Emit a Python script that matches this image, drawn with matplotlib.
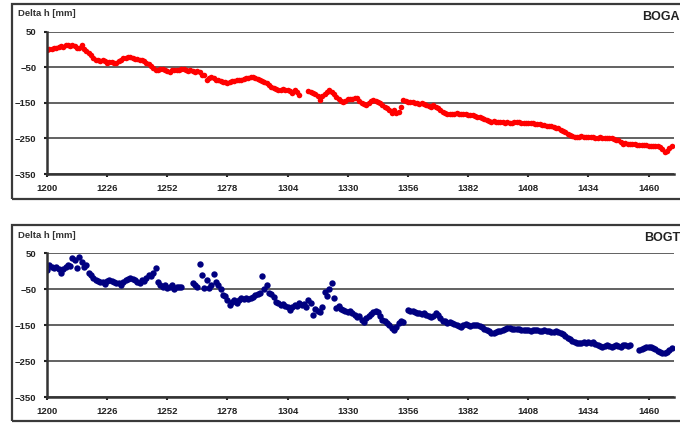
import matplotlib
matplotlib.use("Agg")
import matplotlib.pyplot as plt
import numpy as np
from matplotlib.patches import Rectangle

nan = np.nan

# day offsets from 1200
boga_start = 1200
boga = [
    0, 2, 1, 5, 4, 8, 10, 9, 12, 13,
    11, 12, 10, 6, 5, 14, 2, -4, -10, -14,
    -22, -30, -28, -32, -30, -33, -36, -35, -34, -37,
    -36, -32, -28, -24, -22, -20, -21, -24, -25, -27,
    -28, -30, -32, -36, -40, -45, -52, -57, -56, -54,
    -55, -58, -60, -62, -58, -57, -56, -58, -55, -55,
    -57, -60, -58, -60, -62, -60, -62, -70, -72, -85,
    -80, -78, -80, -84, -86, -88, -90, -92, -93, -90,
    -88, -89, -86, -85, -84, -82, -80, -79, -77, -76,
    -80, -83, -85, -88, -92, -95, -100, -104, -108, -110,
    -113, -112, -110, -114, -112, -116, -122, -112, -118, -127,
    nan, nan, nan, -115, -118, -122, -125, -130, -141, -130,
    -125, -118, -113, -118, -125, -132, -140, -143, -147, -144,
    -140, -140, -138, -135, -136, -145, -150, -152, -156, -150,
    -145, -141, -144, -147, -150, -155, -160, -165, -170, -178,
    -170, -178, -175, -160, -141, -145, -148, -146, -148, -150,
    -150, -152, -150, -152, -155, -158, -160, -156, -160, -165,
    -170, -174, -178, -180, -182, -182, -180, -178, -180, -181,
    -182, -182, -183, -185, -184, -187, -189, -190, -192, -195,
    -198, -200, -203, -202, -203, -204, -203, -204, -205, -204,
    -205, -206, -204, -203, -204, -205, -205, -206, -205, -206,
    -207, -208, -208, -210, -211, -212, -214, -215, -216, -218,
    -220, -221, -225, -228, -232, -236, -240, -243, -245, -246,
    -245, -244, -245, -246, -247, -246, -247, -248, -248, -247,
    -248, -249, -248, -250, -250, -252, -253, -255, -260, -265,
    -264, -265, -266, -265, -266, -267, -268, -268, -267, -269,
    -270, -270, -271, -272, -272, -274, -280, -288, -285, -278,
    -272,
]

bogt = [
    3, 17, 10, 8, 12, 5, -6, 5, 10, 17,
    15, 36, 30, 8, 39, 25, 10, 17, -5, -11,
    -20, -25, -28, -31, -30, -35, -28, -25, -28, -30,
    -32, -33, -38, -30, -25, -22, -19, -22, -25, -30,
    -33, -25, -28, -20, -11, -15, -5, 8, -30, -39,
    -45, -40, -48, -44, -38, -50, -45, -44, -45, nan,
    nan, nan, nan, -33, -40, -44, 19, -11, -47, -25,
    -47, -40, -8, -30, -39, -50, -67, -70, -80, -94,
    -85, -81, -89, -80, -75, -78, -75, -77, -75, -72,
    -68, -65, -61, -14, -50, -39, -60, -65, -72, -85,
    -90, -94, -92, -98, -100, -108, -100, -95, -98, -89,
    -95, -92, -100, -81, -90, -122, -105, -110, -114, -100,
    -58, -70, -50, -33, -75, -103, -98, -105, -108, -112,
    -114, -110, -118, -122, -128, -125, -135, -142, -130, -125,
    -120, -115, -112, -114, -125, -136, -140, -145, -150, -158,
    -164, -155, -145, -140, -142, nan, -108, -110, -112, -115,
    -116, -118, -120, -117, -122, -125, -128, -125, -118, -122,
    -130, -138, -140, -144, -142, -145, -148, -150, -152, -155,
    -150, -148, -150, -152, -150, -150, -150, -152, -155, -160,
    -165, -168, -172, -172, -170, -168, -166, -164, -160, -158,
    -158, -160, -162, -160, -162, -164, -163, -164, -164, -166,
    -165, -163, -165, -168, -166, -165, -166, -168, -170, -169,
    -168, -170, -172, -176, -180, -185, -190, -194, -198, -200,
    -200, -200, -198, -199, -197, -199, -198, -202, -205, -208,
    -210, -208, -206, -209, -211, -208, -205, -207, -210, -206,
    -205, -208, -206, nan, nan, nan, -220, -218, -214, -212,
    -211, -212, -214, -218, -222, -225, -227, -228, -226, -220,
    -214,
]

xticks = [1200, 1226, 1252, 1278, 1304, 1330, 1356, 1382, 1408, 1434, 1460]
yticks = [50, -50, -150, -250, -350]

plt.rcParams['font.family'] = ['Liberation Sans', 'DejaVu Sans']

fig = plt.figure(figsize=(6.8, 4.23), dpi=100)
W, H = 680, 423


def frame(y0, y1):
    r = Rectangle((12 / W, 1 - y1 / H), 1.2, (y1 - y0) / H, transform=fig.transFigure,
                  fill=False, edgecolor='#3a3a3a', lw=1.6)
    fig.add_artist(r)


def panel(top, bottom, vals, color, ms, name, name_y, lab_y):
    ax = fig.add_axes([47 / W, 1 - bottom / H, (674 - 47) / W, (bottom - top) / H])
    x = boga_start + np.arange(len(vals))
    ax.plot(x, vals, 'o', color=color, ms=ms, mec=color, mew=0)
    ax.set_xlim(1200, 1471)
    ax.set_ylim(-350, 50)
    ax.set_xticks(xticks)
    ax.set_yticks(yticks)
    for s in ['top', 'right']:
        ax.spines[s].set_visible(False)
    for s in ['left', 'bottom']:
        ax.spines[s].set_color('#333333')
        ax.spines[s].set_linewidth(1.8)
    ax.grid(axis='y', color='#555555', lw=1.3)
    ax.set_axisbelow(True)
    ax.tick_params(axis='both', length=2.5, width=1.5, color='#222222',
                   labelsize=6.8, pad=5)
    for lb in ax.get_xticklabels() + ax.get_yticklabels():
        lb.set_fontweight('bold')
        lb.set_color('#222222')
    fig.text(18 / W, 1 - lab_y / H, 'Delta h [mm]', fontsize=6.8, fontweight='bold',
             color='#333333', va='center', ha='left')
    fig.text(1.0, 1 - name_y / H, name, fontsize=9, fontweight='bold',
             color='#222222', va='center', ha='right')
    return ax


frame(4, 199)
frame(225, 421)
panel(32, 174, boga, '#ff0000', 4.0, 'BOGA', 17, 14)
panel(253, 397, bogt, '#000080', 4.6, 'BOGT', 238, 235)

fig.savefig('out.png', dpi=100)
